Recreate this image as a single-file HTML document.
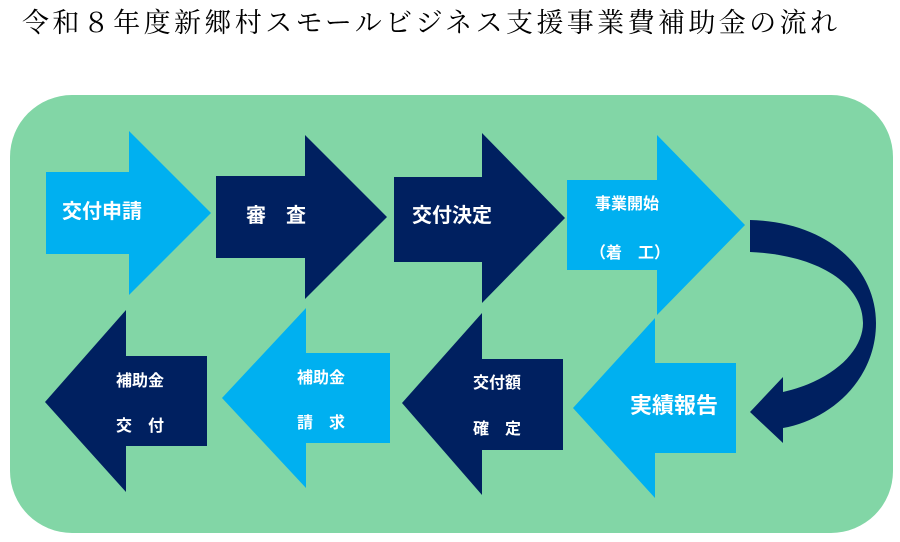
<!DOCTYPE html>
<html><head><meta charset="utf-8"><style>
html,body{margin:0;padding:0;background:#fff;width:900px;height:542px;overflow:hidden}
svg{display:block}
text{font-family:"Liberation Sans","Noto Sans CJK JP",sans-serif;fill:#fff;font-weight:bold}
.t{font-family:"Liberation Serif","Noto Serif CJK SC",serif;fill:#000;font-weight:normal}
</style></head><body>
<svg width="900" height="542" viewBox="0 0 900 542">
<text class="t" x="22" y="32" font-size="27" letter-spacing="3.4">令和８年度新郷村スモールビジネス支援事業費補助金の流れ</text>
<rect x="10" y="95" width="883" height="438" rx="62" fill="#82d6a6"/>
<polygon points="46,172 129,172 129,131 211,213 129,295 129,254 46,254" fill="#00b0f0"/>
<polygon points="216,176 305,176 305,135 387,217 305,299 305,258 216,258" fill="#002060"/>
<polygon points="394,177 482,177 482,133 565,218 482,303 482,262 394,262" fill="#002060"/>
<polygon points="567,180 657,180 657,135 745,225 657,315 657,270 567,270" fill="#00b0f0"/>
<polygon points="573,408 655,318 655,363 736,363 736,453 655,453 655,498" fill="#00b0f0"/>
<polygon points="402,403 482,313 482,359 563,359 563,450 482,450 482,495" fill="#002060"/>
<polygon points="222,398 306,308 306,353 390,353 390,443 306,443 306,488" fill="#00b0f0"/>
<polygon points="45,402 126,310 126,356 207,356 207,446 126,446 126,492" fill="#002060"/>
<path d="M750,220 C830,222 876,270 876,323 C876,380 830,420 783,428 L783,443 L750,412 L783,377 L783,392 C835,380 863,350 863,323 C863,285 820,255 750,252 Z" fill="#002060"/>
<text x="62" y="218" font-size="20">交付申請</text>
<text x="246" y="222" font-size="20">審　査</text>
<text x="412" y="222" font-size="20">交付決定</text>
<text x="595" y="209" font-size="16">事業開始</text>
<text x="590" y="258" font-size="16">（着　工）</text>
<text x="630" y="413" font-size="22">実績報告</text>
<text x="473" y="388" font-size="16">交付額</text>
<text x="473" y="434" font-size="16">確　定</text>
<text x="297" y="383" font-size="16">補助金</text>
<text x="297" y="428" font-size="16">請　求</text>
<text x="116" y="386" font-size="16">補助金</text>
<text x="116" y="431" font-size="16">交　付</text>
</svg>
</body></html>
